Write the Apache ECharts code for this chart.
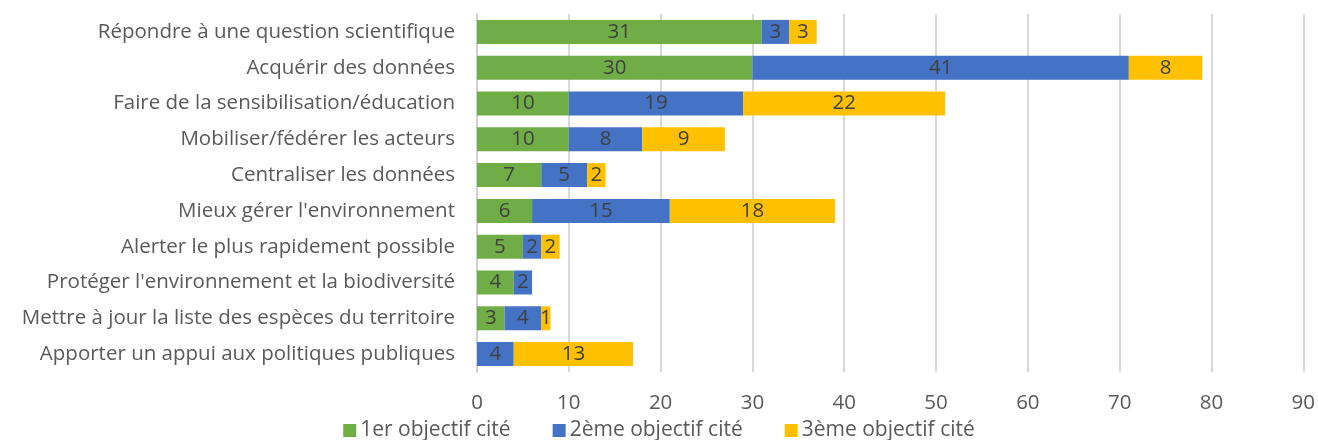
<!DOCTYPE html>
<html><head><meta charset="utf-8">
<script src="https://cdn.jsdelivr.net/npm/echarts@6/dist/echarts.min.js"></script>
<style>html,body{margin:0;padding:0;background:#fff}#c{width:1318px;height:440px}</style>
</head><body><div id="c"></div>
<script>
var categories = ["Répondre à une question scientifique","Acquérir des données","Faire de la sensibilisation/éducation","Mobiliser/fédérer les acteurs","Centraliser les données","Mieux gérer l'environnement","Alerter le plus rapidement possible","Protéger l'environnement et la biodiversité","Mettre à jour la liste des espèces du territoire","Apporter un appui aux politiques publiques"];
var first = [31,30,10,10,7,6,5,4,3,0];
var second = [3,41,19,8,5,15,2,2,4,4];
var third = [3,8,22,9,2,18,2,0,1,13];
var seriesNames = ["1er objectif cité","2ème objectif cité","3ème objectif cité"];
var xTicks = [0,10,20,30,40,50,60,70,80,90];

var FONT = "Open Sans";
var FS = 20.5;
function mk(name, data, color){
  return {name:name,type:'bar',stack:'s',data:data,barWidth:24,
    itemStyle:{color:color},
    label:{show:true,position:'inside',color:'#404040',fontFamily:FONT,fontSize:FS,
      formatter:function(p){return p.value?String(p.value):'';}}};
}
var chart = echarts.init(document.getElementById('c'));
chart.setOption({
  animation:false,
  textStyle:{fontFamily:FONT},
  grid:{left:477,right:14,top:14,bottom:68,containLabel:false},
  legend:{top:415,left:'center',itemWidth:13,itemHeight:13,itemGap:42,icon:'rect',
    textStyle:{color:'#595959',fontSize:21,fontFamily:FONT,padding:[0,0,0,-1]}},
  xAxis:{type:'value',min:xTicks[0],max:xTicks[xTicks.length-1],interval:10,
    axisLine:{show:false},axisTick:{show:false},
    splitLine:{lineStyle:{color:'#d9d9d9',width:2}},
    axisLabel:{color:'#595959',fontSize:FS,fontFamily:FONT,margin:21}},
  yAxis:{type:'category',data:categories,inverse:true,
    axisLine:{show:true,lineStyle:{color:'#d0d0d0',width:2}},axisTick:{show:false},
    axisLabel:{color:'#595959',fontSize:FS,fontFamily:FONT,margin:22}},
  series:[mk(seriesNames[0],first,'#70AD47'),mk(seriesNames[1],second,'#4472C4'),mk(seriesNames[2],third,'#FFC000')]
});
</script></body></html>
